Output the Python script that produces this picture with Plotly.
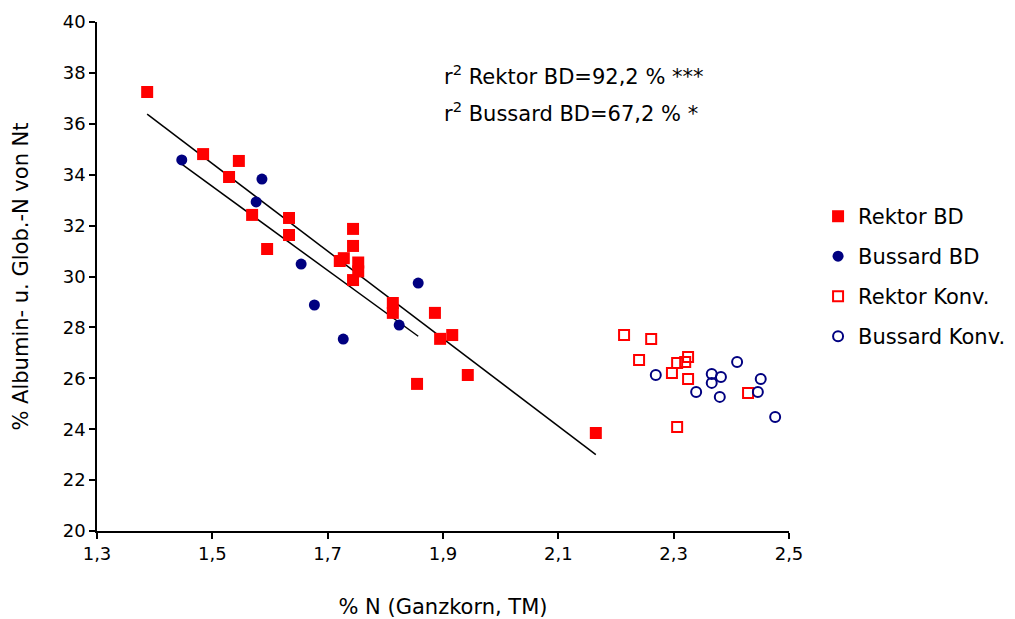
import numpy as np
import plotly.graph_objects as go

# Rektor BD (filled red squares)
rektor_bd_x = [1.387, 1.484, 1.546, 1.529, 1.569, 1.633, 1.633, 1.595, 1.744, 1.744,
               1.721, 1.728, 1.753, 1.753, 1.744, 1.813, 1.813, 1.886, 1.895, 1.916,
               1.855, 1.943, 2.165]
rektor_bd_y = [37.25, 34.81, 34.54, 33.91, 32.42, 32.30, 31.63, 31.08, 31.87, 31.20,
               30.61, 30.72, 30.55, 30.20, 29.86, 28.96, 28.57, 28.57, 27.55, 27.70,
               25.78, 26.13, 23.85]

# Bussard BD (filled navy circles)
bussard_bd_x = [1.447, 1.586, 1.576, 1.654, 1.677, 1.727, 1.857, 1.824]
bussard_bd_y = [34.58, 33.83, 32.93, 30.49, 28.88, 27.54, 29.74, 28.09]

# Rektor Konv. (open red squares)
rektor_konv_x = [2.214, 2.261, 2.240, 2.297, 2.306, 2.320, 2.325, 2.325, 2.429, 2.306]
rektor_konv_y = [27.70, 27.54, 26.72, 26.21, 26.60, 26.64, 26.84, 25.97, 25.42, 24.09]

# Bussard Konv. (open navy circles)
bussard_konv_x = [2.269, 2.339, 2.366, 2.366, 2.382, 2.380, 2.410, 2.451, 2.446, 2.476]
bussard_konv_y = [26.13, 25.46, 26.17, 25.82, 26.05, 25.27, 26.64, 25.97, 25.46, 24.48]

x_ticks = [1.3, 1.5, 1.7, 1.9, 2.1, 2.3, 2.5]
y_ticks = [20, 22, 24, 26, 28, 30, 32, 34, 36, 38, 40]

FONT = "DejaVu Sans"
RED = "#FF0000"
NAVY = "#000080"


def trend(xs, ys):
    """Least-squares line over the range of the data."""
    k, d = np.polyfit(xs, ys, 1)
    xr = np.array([min(xs), max(xs)])
    return xr, k * xr + d


fig = go.Figure()

for xs, ys in [(rektor_bd_x, rektor_bd_y), (bussard_bd_x, bussard_bd_y)]:
    lx, ly = trend(xs, ys)
    fig.add_trace(
        go.Scatter(x=lx, y=ly, mode="lines", showlegend=False, hoverinfo="skip",
                   line=dict(color="black", width=1.5))
    )

fig.add_trace(go.Scatter(
    x=rektor_bd_x, y=rektor_bd_y, mode="markers", name="Rektor BD", legendgroup="a",
    marker=dict(symbol="square", size=12, color=RED, line=dict(width=0)),
))
fig.add_trace(go.Scatter(
    x=bussard_bd_x, y=bussard_bd_y, mode="markers", name="Bussard BD", legendgroup="b",
    marker=dict(symbol="circle", size=11, color=NAVY, line=dict(width=0)),
))
fig.add_trace(go.Scatter(
    x=rektor_konv_x, y=rektor_konv_y, mode="markers", name="Rektor Konv.", legendgroup="c",
    marker=dict(symbol="square-open", size=10, color=RED, line=dict(width=2)),
))
fig.add_trace(go.Scatter(
    x=bussard_konv_x, y=bussard_konv_y, mode="markers", name="Bussard Konv.", legendgroup="d",
    marker=dict(symbol="circle-open", size=10, color=NAVY, line=dict(width=2)),
))

fig.add_annotation(
    xref="paper", yref="paper", x=0.499, y=0.896, xanchor="left", yanchor="middle",
    text="r<sup>2</sup> Rektor BD=92,2 % ***", showarrow=False,
    font=dict(family=FONT, size=21, color="black"),
)
fig.add_annotation(
    xref="paper", yref="paper", x=0.499, y=0.823, xanchor="left", yanchor="middle",
    text="r<sup>2</sup> Bussard BD=67,2 % *", showarrow=False,
    font=dict(family=FONT, size=21, color="black"),
)

axis_common = dict(
    showgrid=False, zeroline=False, showline=True, linecolor="black", linewidth=1.5,
    ticks="outside", ticklen=6, tickcolor="black", tickwidth=1.5, automargin=False,
    tickfont=dict(family=FONT, size=18, color="black"),
)

# page body adds an 8 px offset, so the figure is 8 px smaller than the window
fig.update_layout(
    width=1007, height=611,
    margin=dict(l=89, r=226, t=14, b=88, autoexpand=False),
    paper_bgcolor="white", plot_bgcolor="white",
    separators=",.",
    font=dict(family=FONT, size=18, color="black"),
    xaxis=dict(
        range=[1.3, 2.5], tickvals=x_ticks, tickformat=".1f",
        title=dict(text="% N (Ganzkorn, TM)", standoff=37,
                   font=dict(family=FONT, size=21, color="black")),
        **axis_common,
    ),
    yaxis=dict(
        range=[20, 40], tickvals=y_ticks,
        title=dict(text="% Albumin- u. Glob.-N von Nt", standoff=28,
                   font=dict(family=FONT, size=21, color="black")),
        **axis_common,
    ),
    legend=dict(
        x=1.042, y=0.658, xanchor="left", yanchor="top",
        traceorder="grouped", tracegroupgap=9.7, itemwidth=30,
        font=dict(family=FONT, size=21, color="black"),
        bgcolor="rgba(0,0,0,0)",
    ),
    showlegend=True,
)

fig.write_html("out.html")
